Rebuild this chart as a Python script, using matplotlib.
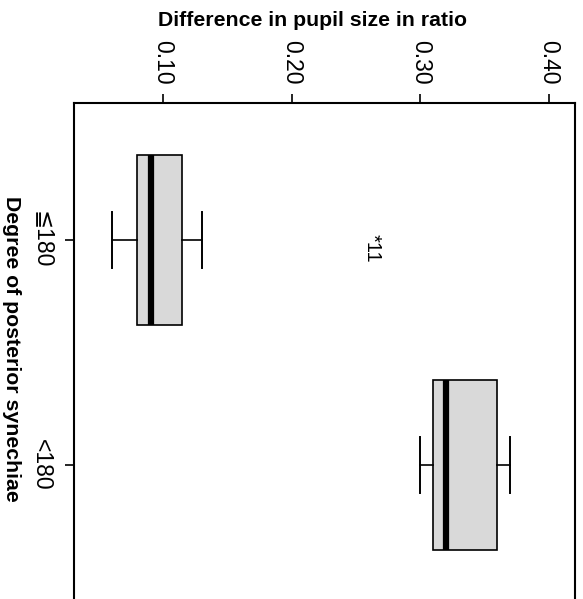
import numpy as np
import matplotlib
matplotlib.use("Agg")
import matplotlib.pyplot as plt

plt.rcParams['font.family'] = ['Liberation Sans', 'DejaVu Sans']

# data
groups = ["≦180", "<180"]
whislo = [0.060, 0.300]
q1 = [0.080, 0.310]
med = [0.091, 0.320]
q3 = [0.115, 0.360]
whishi = [0.130, 0.370]
outlier_vals = [0.263]
outlier_group = [1]
outlier_ids = ["11"]
xticks = [0.10, 0.20, 0.30, 0.40]
xtick_labels = ["0.10", "0.20", "0.30", "0.40"]

stats = []
for i in range(len(groups)):
    stats.append(dict(med=med[i], q1=q1[i], q3=q3[i],
                      whislo=whislo[i], whishi=whishi[i], fliers=[]))

fig = plt.figure(figsize=(5.83, 5.99), dpi=100)
ax = fig.add_axes([73.5/583, 1-630/599, (575-73.5)/583, (630-103)/599])

ax.bxp(stats, positions=[1, 2], widths=0.752, capwidths=0.25,
       orientation='horizontal', patch_artist=True, showfliers=False,
       boxprops=dict(facecolor='#d9d9d9', edgecolor='black', linewidth=1.2),
       medianprops=dict(color='black', linewidth=4.5, solid_capstyle='butt'),
       whiskerprops=dict(color='black', linewidth=1.2),
       capprops=dict(color='black', linewidth=1.4))

for v, g, lab in zip(outlier_vals, outlier_group, outlier_ids):
    ax.text(v, g - 0.025, "*" + lab, rotation=-90, ha='center', va='top',
            fontsize=14.5)

ax.set_xlim(0.0304, 0.4204)
ax.set_ylim(2.731, 0.393)

ax.xaxis.tick_top()
ax.set_xticks(xticks)
ax.set_xticklabels(xtick_labels, rotation=-90, fontsize=16.5, va='bottom', ha='center')
ax.set_yticks([1, 2])
ax.set_yticklabels(groups, rotation=-90, fontsize=16.5, va='center', ha='right')
ax.tick_params(axis='x', direction='out', length=6.5, width=1.2, pad=7)
ax.tick_params(axis='y', direction='out', length=6.5, width=1.2, pad=8)
for s in ax.spines.values():
    s.set_linewidth(1.5)

fig.text(313/583, 1-21/599, "Difference in pupil size in ratio",
         ha='center', va='center', fontsize=15.3, fontweight='bold')
fig.text(11.7/583, 1-349/599, "Degree of posterior synechiae",
         ha='center', va='center', rotation=-90, fontsize=15.3, fontweight='bold')

fig.savefig("out.png", dpi=100)
